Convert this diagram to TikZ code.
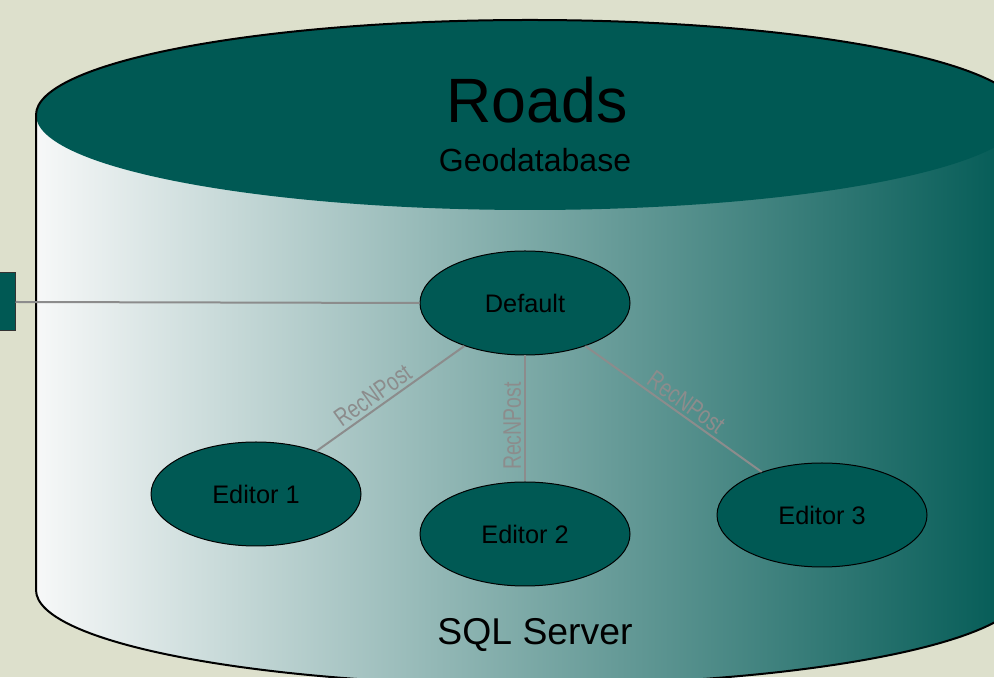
\documentclass[tikz,border=0pt]{standalone}
\usepackage{fontspec}
\setmainfont{Liberation Sans}
\newfontfamily\narrowfont{Liberation Sans}[FakeStretch=0.77]
\usetikzlibrary{shapes.geometric}
\definecolor{bgc}{RGB}{221,224,204}
\definecolor{teal0}{RGB}{0,89,84}
\definecolor{lite}{RGB}{247,248,248}
\definecolor{conn}{RGB}{140,140,140}
\begin{document}
\begin{tikzpicture}[x=0.75pt,y=0.75pt,
  ver/.style={ellipse, draw=black, line width=0.75pt, fill=teal0, minimum width=157.5pt, minimum height=78pt, inner sep=0pt, font=\fontsize{19}{22}\selectfont},
  srcbox/.style={draw=black!80, fill=teal0, line width=0.75pt, minimum width=22.5pt, minimum height=43.5pt, inner sep=0pt},
  link/.style={draw=conn, line width=1.5pt},
  lab/.style={font=\narrowfont\fontsize{19}{22}\selectfont, text=conn, sloped, above, inner sep=2.2pt}]
\useasboundingbox (0,0) rectangle (994,677);
\fill[bgc] (0,0) rectangle (994,677);
\begin{scope}
\clip (0,0) rectangle (994,677);
\shade[left color=lite, right color=teal0] (36,562) -- (36,87) arc[start angle=180,end angle=360,x radius=494,y radius=95] -- (1024,562) -- cycle;
\fill[teal0] (530,562) ellipse [x radius=494, y radius=95];
\draw[line width=1.5pt, line join=round] (36,87) -- (36,562) arc[start angle=180,end angle=0,x radius=494,y radius=95] -- (1024,87) arc[start angle=0,end angle=-180,x radius=494,y radius=95] -- cycle;
\node[srcbox] (src) at (0,375) {};
\end{scope}
\node[font=\fontsize{47}{50}\selectfont] (roads) at (537,577) {Roads};
\node[font=\fontsize{24}{28}\selectfont] (geo) at (535,517) {Geodatabase};
\node[font=\fontsize{28}{32}\selectfont] (sql) at (535,42) {SQL Server};
\node[ver] (def) at (525,374) {Default};
\node[ver] (e1) at (256,183) {Editor 1};
\node[ver] (e2) at (525,143) {Editor 2};
\node[ver] (e3) at (822,162) {Editor 3};
\draw[link] (src.east) -- (def.west);
\draw[link] (def) -- node[lab, pos=0.57] {RecNPost} (e1);
\draw[link] (e2) -- node[lab, pos=0.44] {RecNPost} (def);
\draw[link] (def) -- node[lab, pos=0.53] {RecNPost} (e3);
\end{tikzpicture}
\end{document}
